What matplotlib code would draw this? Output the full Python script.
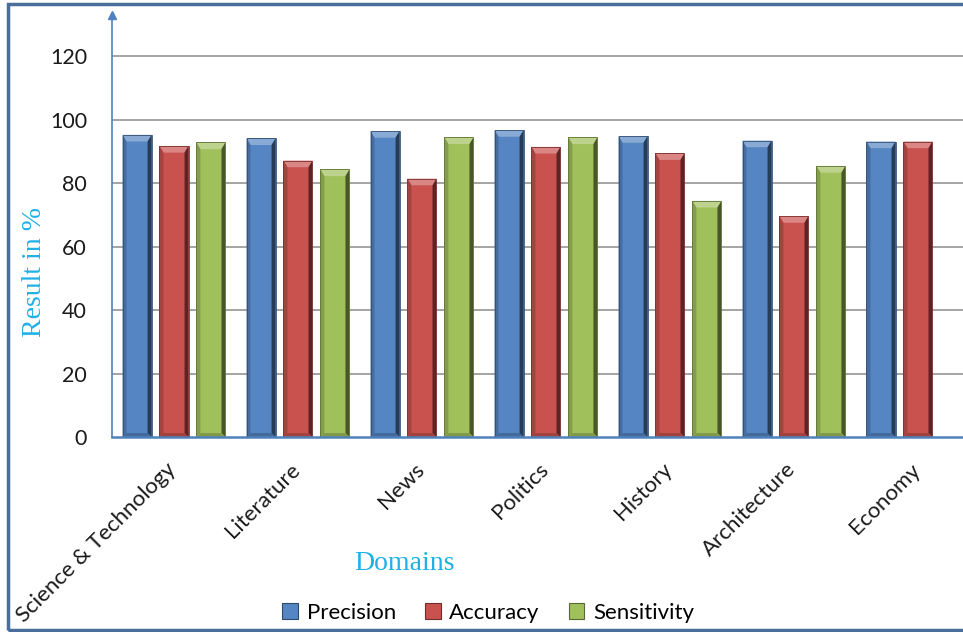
import numpy as np
import matplotlib
matplotlib.use("Agg")
import matplotlib.pyplot as plt
from matplotlib.patches import Polygon, Rectangle, Patch
from matplotlib.colors import to_rgb
from matplotlib.transforms import ScaledTranslation

# Datos por dominio
dominios = ["Science & Technology", "Literature", "News", "Politics",
            "History", "Architecture", "Economy"]
precision = [95.2, 94.1, 96.4, 96.7, 94.8, 93.4, 93.1]
accuracy = [91.7, 87.1, 81.4, 91.4, 89.4, 69.6, 93.1]
sensitivity = [92.8, 84.3, 94.4, 94.4, 74.4, 85.4, np.nan]

series = ["Precision", "Accuracy", "Sensitivity"]
colores = ["#5585c2", "#c9524f", "#a0c05c"]
yticks = [0, 20, 40, 60, 80, 100, 120]


def tono(c, f):
    # f > 1 aclara, f < 1 oscurece
    r = np.array(to_rgb(c))
    if f >= 1:
        r = r + (1 - r) * (f - 1)
    else:
        r = r * f
    return tuple(np.clip(r, 0, 1))


def barra_bisel(ax, x, h, w, color, s=0.032, t=2.1):
    # barra con bisel tipo Office: tapa clara, costados oscuros
    x0, x1 = x - w / 2, x + w / 2
    ax.add_patch(Rectangle((x0, 0), w, h, facecolor=color, edgecolor="none", zorder=3))
    caras = [
        ([(x0, h), (x1, h), (x1 - s, h - t), (x0 + s, h - t)], tono(color, 1.3)),
        ([(x1, h), (x1, 0), (x1 - s, t * 0.6), (x1 - s, h - t)], tono(color, 0.45)),
        ([(x0, h), (x0, 0), (x0 + s, t * 0.6), (x0 + s, h - t)], tono(color, 0.82)),
        ([(x0, 0), (x1, 0), (x1 - s, t * 0.6), (x0 + s, t * 0.6)], tono(color, 0.8)),
    ]
    for pts, c in caras:
        ax.add_patch(Polygon(pts, closed=True, facecolor=c, edgecolor="none", zorder=4))
    ax.add_patch(Rectangle((x0, 0), w, h, facecolor="none", edgecolor=tono(color, 0.6),
                           lw=0.6, zorder=5))


fig = plt.figure(figsize=(9.63, 6.32), dpi=100)
ax = fig.add_axes([0.1163, 0.3085, 0.9013, 0.668])

x = np.arange(len(dominios))
ancho = 0.234
paso = 0.298
for k, (vals, col) in enumerate(zip([precision, accuracy, sensitivity], colores)):
    for i, v in enumerate(vals):
        if np.isnan(v):
            continue
        barra_bisel(ax, x[i] + (k - 1) * paso, v, ancho, col)

ax.set_xlim(-0.5, len(dominios) - 0.5)
ax.set_ylim(0, 133)
ax.set_yticks(yticks)
ax.set_xticks(x)
ax.set_xticklabels(dominios, rotation=45, ha="right", va="top",
                   fontsize=16, family="Lato", color="#1a1a1a")
ax.tick_params(axis="x", length=0, pad=16)
ax.tick_params(axis="y", length=0, pad=18, labelsize=15.5, labelcolor="#1a1a1a")
for lab in ax.get_yticklabels():
    lab.set_family("Lato")
# correr las etiquetas un poco a la derecha
desplaza = ScaledTranslation(6 / 100, 0, fig.dpi_scale_trans)
for lab in ax.get_xticklabels():
    lab.set_transform(lab.get_transform() + desplaza)

# rejilla horizontal
for yv in yticks[1:]:
    ax.axhline(yv, color="#8c8c8c", lw=1.1, zorder=1)

for lado in ["top", "right"]:
    ax.spines[lado].set_visible(False)
ax.spines["left"].set_color("#4f81bd")
ax.spines["left"].set_linewidth(1.2)
ax.spines["bottom"].set_color("#4f81bd")
ax.spines["bottom"].set_linewidth(1.8)
ax.spines["bottom"].set_zorder(6)
ax.plot(0, 1, marker="^", color="#4f81bd", markersize=6, transform=ax.transAxes,
        clip_on=False, zorder=7)

ax.set_ylabel("Result in %", family="Liberation Serif", fontsize=20, color="#1fb1e6")
ax.yaxis.set_label_coords(-0.0749, 0.391)
fig.text(404 / 963, 1 - 563 / 632, "Domains", family="Liberation Serif", fontsize=20,
         color="#1fb1e6", ha="center", va="center")

handles = [Patch(facecolor=c, edgecolor=tono(c, 0.55), lw=0.8) for c in colores]
fig.legend(handles, series, loc="center", bbox_to_anchor=(0.507, 1 - 613 / 632),
           ncol=3, frameon=False, prop={"family": "Lato", "size": 16},
           handlelength=0.7, handleheight=0.7, handletextpad=0.4, columnspacing=1.3)

# marco exterior
fig.patches.append(Rectangle((8 / 963, 2 / 632), 1.2, 626 / 632, transform=fig.transFigure,
                             fill=False, edgecolor="#4a6e9c", lw=2.5))

fig.savefig("out.png", dpi=100)
